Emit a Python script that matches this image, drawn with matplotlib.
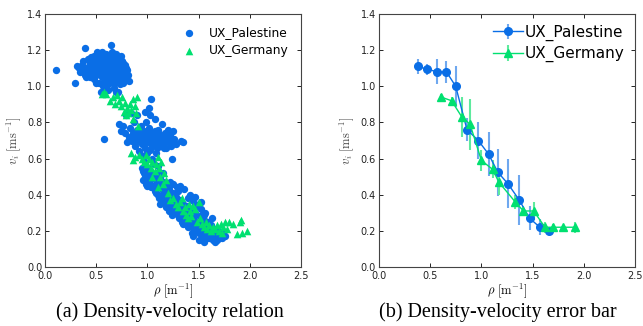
import numpy as np
import matplotlib.pyplot as plt

plt.rcParams['mathtext.fontset'] = 'cm'

BLUE = '#0a6ee6'
GREEN = '#00e070'

# (a) scatter, Palestine
pal_x = [0.11, 0.29, 0.31, 0.33, 0.36, 0.39, 0.39, 0.40, 0.42, 0.44, 0.45, 0.46, 0.47, 0.48, 0.49, 0.50,
         0.51, 0.52, 0.52, 0.53, 0.54, 0.55, 0.55, 0.56, 0.57, 0.57, 0.58, 0.58, 0.59, 0.60, 0.60, 0.61,
         0.61, 0.62, 0.62, 0.63, 0.63, 0.64, 0.64, 0.65, 0.65, 0.66, 0.66, 0.67, 0.67, 0.68, 0.68, 0.69,
         0.69, 0.70, 0.70, 0.71, 0.71, 0.72, 0.72, 0.73, 0.73, 0.74, 0.75, 0.76, 0.76, 0.77, 0.78, 0.79,
         0.80, 0.81, 0.55, 0.59, 0.74, 0.47, 0.58,
         0.34, 0.37, 0.41, 0.43, 0.44, 0.46, 0.48, 0.50, 0.51, 0.53, 0.54, 0.56, 0.45, 0.49, 0.38, 0.50,
         0.53, 0.42, 0.76, 0.79, 0.82, 0.62, 0.66, 0.69,
         0.72, 0.74, 0.76, 0.78, 0.79, 0.80, 0.82, 0.83, 0.84, 0.85, 0.86, 0.87, 0.88, 0.89, 0.90, 0.91,
         0.92, 0.93, 0.94, 0.95, 0.96, 0.97, 0.98, 0.99, 1.00, 1.01, 1.02, 1.02, 1.03, 1.04, 1.04, 1.05,
         1.06, 1.07, 1.08, 1.09, 1.10, 1.11, 1.12, 1.13, 1.14, 1.15, 1.16, 1.17, 1.18, 1.19, 1.20, 1.21,
         1.22, 1.23, 1.24, 1.25, 1.26, 1.28, 1.33, 1.35, 0.94, 1.00, 1.08, 0.90, 0.98, 1.03,
         0.97, 1.03, 1.07, 1.13, 1.09, 1.01, 1.16, 1.22, 0.95, 1.05,
         0.95, 0.96, 0.97, 0.98, 0.99, 1.00, 1.01, 1.02, 1.03, 1.04, 1.05, 1.06, 1.07, 1.08, 1.09, 1.10,
         1.11, 1.12, 1.13, 1.14, 1.15, 1.16, 1.17, 1.18, 1.19, 1.20, 1.21, 1.22, 1.23, 1.24, 1.25, 1.26,
         1.27, 1.28, 1.29, 1.30, 1.31, 1.32, 1.33, 1.34, 1.35, 1.36, 1.37, 1.38, 1.39, 1.40, 1.41, 1.42,
         1.43, 1.44, 1.45, 1.46, 1.47, 1.48, 1.49, 1.50, 1.51, 1.52, 1.53, 1.54, 1.55, 1.56, 1.57, 1.58,
         1.59, 1.60, 1.61, 1.62, 1.63, 1.64, 1.65, 1.66, 1.67, 1.68, 1.69, 1.70, 1.72, 1.74, 1.76, 1.45,
         1.50, 1.55, 1.44, 1.40, 1.35, 1.47, 1.42, 1.30, 1.25, 1.15, 1.10, 1.05, 1.32, 1.12,
         0.96, 0.98, 1.00, 1.02, 1.03, 1.05, 1.06, 1.08, 1.09, 1.11, 1.12, 1.14, 1.15, 1.17, 1.18, 1.20,
         1.21, 1.23, 1.24, 1.26, 1.27, 1.29, 1.31, 1.33, 1.34, 1.36, 1.38, 1.39, 1.41, 1.43, 1.44, 1.46,
         1.48, 1.50, 1.52, 1.54, 1.56, 1.58, 1.60, 1.62, 1.64, 1.66, 1.68, 1.70, 1.73, 1.47, 1.52, 1.55,
         1.57]
pal_y = [1.09, 1.02, 1.11, 1.10, 1.12, 1.21, 1.06, 1.05, 1.10, 1.13, 1.16, 1.08, 1.12, 1.04, 1.10, 1.14,
         1.19, 1.07, 1.12, 1.02, 1.17, 1.09, 1.13, 1.05, 1.00, 1.11, 1.15, 1.08, 1.03, 1.18, 1.12, 1.06,
         1.10, 1.01, 1.14, 1.17, 1.08, 1.23, 1.04, 1.12, 1.19, 1.10, 1.06, 1.15, 0.99, 1.02, 1.13, 1.08,
         1.18, 1.04, 1.11, 1.16, 0.97, 1.07, 1.13, 1.01, 1.10, 1.05, 1.14, 1.09, 1.02, 1.07, 1.12, 1.04,
         1.09, 1.06, 0.97, 0.98, 1.17, 1.07, 0.71,
         1.08, 1.14, 1.07, 1.11, 1.05, 1.15, 1.17, 1.06, 1.11, 1.15, 1.08, 1.19, 1.10, 1.13, 1.09, 1.02,
         1.10, 1.15, 1.13, 1.10, 1.03, 0.98, 1.02, 0.97,
         0.79, 0.75, 0.78, 0.74, 0.84, 0.69, 0.72, 0.77, 0.85, 0.70, 0.74, 0.80, 0.67, 0.72, 0.76, 0.70,
         0.64, 0.73, 0.78, 0.68, 0.71, 0.75, 0.66, 0.80, 0.72, 0.69, 0.77, 0.88, 0.65, 0.93, 0.71, 0.74,
         0.68, 0.82, 0.72, 0.66, 0.76, 0.70, 0.73, 0.67, 0.79, 0.71, 0.69, 0.74, 0.66, 0.72, 0.76, 0.69,
         0.73, 0.67, 0.60, 0.75, 0.71, 0.68, 0.70, 0.69, 0.62, 0.63, 0.63, 0.84, 0.86, 0.84,
         0.69, 0.70, 0.75, 0.71, 0.69, 0.74, 0.66, 0.70, 0.74, 0.67,
         0.55, 0.48, 0.52, 0.58, 0.46, 0.50, 0.55, 0.47, 0.53, 0.44, 0.49, 0.57, 0.42, 0.46, 0.52, 0.40,
         0.44, 0.49, 0.38, 0.43, 0.47, 0.36, 0.41, 0.45, 0.34, 0.39, 0.43, 0.47, 0.32, 0.37, 0.41, 0.30,
         0.35, 0.39, 0.44, 0.29, 0.33, 0.37, 0.27, 0.31, 0.35, 0.43, 0.26, 0.30, 0.34, 0.38, 0.24, 0.28,
         0.32, 0.37, 0.22, 0.26, 0.30, 0.34, 0.20, 0.24, 0.28, 0.36, 0.18, 0.22, 0.26, 0.30, 0.17, 0.21,
         0.25, 0.16, 0.19, 0.23, 0.27, 0.15, 0.18, 0.14, 0.21, 0.17, 0.20, 0.16, 0.18, 0.19, 0.17, 0.17,
         0.15, 0.14, 0.19, 0.22, 0.24, 0.39, 0.40, 0.42, 0.46, 0.52, 0.56, 0.60, 0.45, 0.35,
         0.53, 0.50, 0.45, 0.52, 0.48, 0.45, 0.51, 0.41, 0.48, 0.38, 0.45, 0.40, 0.36, 0.38, 0.33, 0.35,
         0.31, 0.35, 0.29, 0.33, 0.40, 0.31, 0.27, 0.32, 0.25, 0.29, 0.24, 0.27, 0.31, 0.25, 0.22, 0.28,
         0.22, 0.19, 0.23, 0.17, 0.20, 0.16, 0.20, 0.17, 0.20, 0.17, 0.15, 0.19, 0.16, 0.35, 0.32, 0.29,
         0.23]

# (a) scatter, Germany
ger_x = [0.56, 0.58, 0.60, 0.63, 0.66, 0.68, 0.70, 0.72, 0.74, 0.75, 0.77, 0.78, 0.80, 0.81, 0.83, 0.84,
         0.86, 0.88, 0.89, 0.90, 0.91, 0.86, 0.79,
         0.84, 0.86, 0.88, 0.92, 0.95, 0.97, 0.99, 1.00, 1.02, 1.04, 1.05, 1.07, 1.08, 1.10, 1.11, 1.12,
         1.13, 1.15, 1.16, 1.18, 1.05, 1.10, 1.20, 1.22, 1.25, 1.28, 1.30, 1.32, 1.34, 1.35, 1.37, 1.38,
         1.40, 1.41, 1.42, 1.43, 1.45, 1.47, 1.48, 1.50, 1.51, 1.53, 1.55, 1.57, 1.58, 1.60, 1.62, 1.64,
         1.66, 1.68, 1.70, 1.72, 1.74, 1.76, 1.80, 1.84, 1.90, 1.91, 1.88, 1.92, 1.97, 1.78, 1.73]
ger_y = [0.96, 0.97, 0.96, 0.92, 0.94, 0.90, 0.95, 0.92, 0.89, 0.94, 0.86, 0.91, 0.88, 0.85, 0.90, 0.87,
         0.82, 0.89, 0.85, 0.94, 0.78, 0.93, 0.84,
         0.63, 0.59, 0.61, 0.62, 0.60, 0.58, 0.62, 0.57, 0.60, 0.55, 0.58, 0.53, 0.57, 0.61, 0.55, 0.50,
         0.58, 0.46, 0.52, 0.48, 0.50, 0.44, 0.41, 0.37, 0.38, 0.35, 0.33, 0.36, 0.38, 0.31, 0.33, 0.29,
         0.27, 0.35, 0.31, 0.28, 0.34, 0.32, 0.25, 0.36, 0.27, 0.24, 0.22, 0.25, 0.21, 0.23, 0.20, 0.22,
         0.21, 0.23, 0.20, 0.24, 0.22, 0.25, 0.25, 0.24, 0.25, 0.26, 0.18, 0.19, 0.20, 0.21, 0.19]

# (b) binned means with error bars
pal_rho = [0.38, 0.47, 0.57, 0.66, 0.75, 0.86, 0.97, 1.07, 1.16, 1.26, 1.37, 1.47, 1.57, 1.66]
pal_v = [1.11, 1.095, 1.08, 1.08, 1.00, 0.76, 0.70, 0.625, 0.525, 0.46, 0.37, 0.27, 0.22, 0.20]
pal_err = [0.04, 0.03, 0.07, 0.06, 0.115, 0.065, 0.10, 0.12, 0.13, 0.135, 0.14, 0.065, 0.045, 0.02]
ger_rho = [0.61, 0.71, 0.81, 0.89, 1.00, 1.11, 1.17, 1.33, 1.41, 1.51, 1.62, 1.70, 1.80, 1.91]
ger_v = [0.94, 0.92, 0.83, 0.79, 0.59, 0.54, 0.47, 0.36, 0.31, 0.31, 0.22, 0.22, 0.22, 0.22]
ger_err = [0.02, 0.02, 0.11, 0.14, 0.06, 0.05, 0.07, 0.04, 0.03, 0.05, 0.03, 0.02, 0.015, 0.03]

fig = plt.figure(figsize=(6.43, 3.26), dpi=100)
ax1 = fig.add_axes([0.070, 0.181, 0.398, 0.776])
ax2 = fig.add_axes([0.589, 0.181, 0.399, 0.776])

ax1.scatter(pal_x, pal_y, s=28, c=BLUE, marker='o', linewidths=0, label='UX_Palestine', zorder=2)
ax1.scatter(ger_x, ger_y, s=30, c=GREEN, marker='^', linewidths=0, label='UX_Germany', zorder=3)
ax1.legend(loc='upper right', frameon=False, fontsize=8.8, handletextpad=0.6, borderaxespad=0.6,
           labelspacing=0.4)

ax2.errorbar(pal_rho, pal_v, yerr=pal_err, color=BLUE, marker='o', ms=5.5, lw=1,
             ecolor='#6fa8ef', elinewidth=1.5, label='UX_Palestine')
ax2.errorbar(ger_rho, ger_v, yerr=ger_err, color=GREEN, marker='^', ms=5.5, lw=1,
             ecolor='#5eea9e', elinewidth=1.5, label='UX_Germany')
ax2.legend(loc='upper right', frameon=False, fontsize=11, handlelength=2.0, handletextpad=0.1,
           borderaxespad=0.3, labelspacing=0.35)

for ax in (ax1, ax2):
    ax.set_xlim(0, 2.5)
    ax.set_ylim(0, 1.4)
    ax.set_xticks(np.arange(0, 2.51, 0.5))
    ax.set_yticks(np.arange(0, 1.41, 0.2))
    ax.tick_params(direction='in', top=True, right=True, labelsize=7, length=3, width=0.6,
                   labelcolor='#222222')
    ax.tick_params(axis='x', pad=3)
    ax.tick_params(axis='y', pad=2)
    for sp in ax.spines.values():
        sp.set_color('#444444')
        sp.set_linewidth(0.8)
    ax.set_xlabel(r'$\rho\ [\mathrm{m}^{-1}]$', fontsize=9, labelpad=0)
    ax.set_ylabel(r'$v_i\ [\mathrm{ms}^{-1}]$', fontsize=9, labelpad=3, color='#444444')

fig.text(0.264, 0.043, '(a) Density-velocity relation', ha='center', va='center',
         family='Liberation Serif', fontsize=14.5)
fig.text(0.774, 0.043, '(b) Density-velocity error bar', ha='center', va='center',
         family='Liberation Serif', fontsize=14.5)

fig.savefig('out.png', dpi=100)
